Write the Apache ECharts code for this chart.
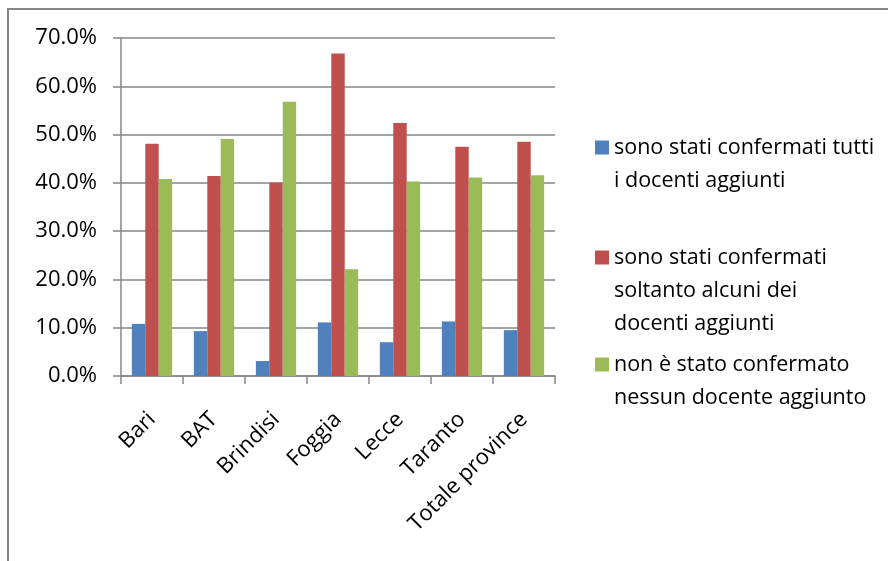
<!DOCTYPE html>
<html>
<head>
<meta charset="utf-8">
<script src="https://cdn.jsdelivr.net/npm/echarts@6/dist/echarts.min.js"></script>
<style>
html,body{margin:0;padding:0;background:#fff;}
#main{width:888px;height:561px;}
</style>
</head>
<body>
<div id="main"></div>
<script>
// dati (percentuali)
var province=['Bari','BAT','Brindisi','Foggia','Lecce','Taranto','Totale province'];
var tuttiConfermati=[10.8,9.3,3.1,11.1,7.0,11.3,9.5];
var alcuniConfermati=[48.1,41.4,40.0,66.8,52.4,47.5,48.5];
var nessunoConfermato=[40.8,49.1,56.8,22.1,40.3,41.1,41.6];
var nomiSerie=[
	'sono stati confermati tutti\ni docenti aggiunti',
	'sono stati confermati\nsoltanto alcuni dei\ndocenti aggiunti',
	'non è stato confermato\nnessun docente aggiunto'
];
var colori=['#4F81BD','#C0504D','#9BBB59'];

var font='"Open Sans", sans-serif';
var chart=echarts.init(document.getElementById('main'));

//una legenda per ogni serie, il quadratino allineato alla prima riga
//(righe vuote sopra il testo, cosi' la prima riga sta al centro)
function legenda(nome,righe,top){
	return {
		data:[nome],
		orient:'vertical',
		left:595,
		top:top,
		padding:0,
		itemWidth:14,
		itemHeight:14,
		icon:'rect',
		selectedMode:false,
		formatter:function(n){
			var vuote='';
			for(var i=1;i<righe;i++){vuote+=' \n';}
			return vuote+n;
		},
		textStyle:{
			fontFamily:font,
			fontSize:21.5,
			color:'#000',
			lineHeight:33
		}
	};
}

var option={
	backgroundColor:'#ffffff',
	animation:false,
	color:colori,
	grid:{left:121,top:38,right:333,bottom:185,containLabel:false},
	legend:[
		legenda(nomiSerie[0],2,98),
		legenda(nomiSerie[1],3,175),
		legenda(nomiSerie[2],2,315)
	],
	xAxis:{
		type:'category',
		data:province,
		axisLine:{lineStyle:{color:'#868686',width:1.5}},
		axisTick:{show:true,length:8,lineStyle:{color:'#868686',width:1.5}},
		axisLabel:{
			interval:0,
			rotate:45,
			margin:40,
			fontFamily:font,
			fontSize:22,
			color:'#000'
		}
	},
	yAxis:{
		type:'value',
		min:0,
		max:70,
		interval:10,
		axisLine:{show:true,lineStyle:{color:'#868686',width:1.5}},
		axisTick:{show:true,length:8,lineStyle:{color:'#868686',width:1.5}},
		splitLine:{lineStyle:{color:'#868686',width:1.5}},
		axisLabel:{
			margin:24,
			fontFamily:font,
			fontSize:22,
			color:'#000',
			formatter:function(v){return v.toFixed(1)+'%';}
		}
	},
	series:[
		{name:nomiSerie[0],type:'bar',data:tuttiConfermati,barGap:'0%',barCategoryGap:'35%'},
		{name:nomiSerie[1],type:'bar',data:alcuniConfermati,barGap:'0%',barCategoryGap:'35%'},
		{name:nomiSerie[2],type:'bar',data:nessunoConfermato,barGap:'0%',barCategoryGap:'35%'}
	],
	graphic:[
		{
			type:'rect',
			silent:true,
			shape:{x:8,y:9,width:1000,height:1000},
			style:{fill:'none',stroke:'#868686',lineWidth:2}
		}
	]
};
chart.setOption(option);
</script>
</body>
</html>
